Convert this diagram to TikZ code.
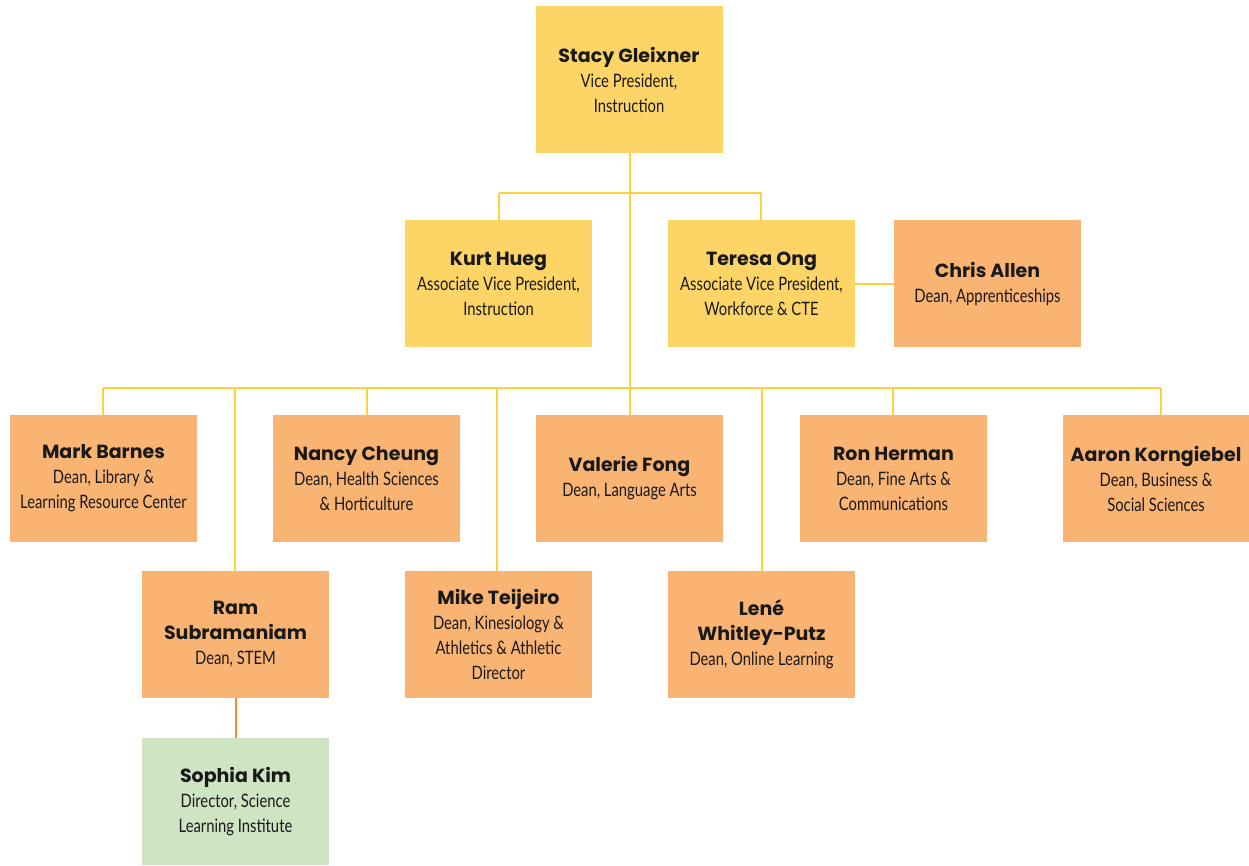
\documentclass[tikz,border=0pt]{standalone}
\usepackage{fontspec}
\setmainfont{Lato}
\newfontfamily\namefam{Poppins}
\newfontfamily\descfam[FakeStretch=0.8]{Lato}
\definecolor{ylw}{HTML}{FDD466}
\definecolor{org}{HTML}{F9B474}
\definecolor{grn}{HTML}{CEE4C3}
\definecolor{yline}{HTML}{FDD03E}
\definecolor{oline}{HTML}{F6892A}
\newcommand{\nm}[1]{{\namefam\bfseries\fontsize{19}{25}\selectfont #1}}
\tikzset{
  person/.style={minimum width=187pt, minimum height=127pt, inner sep=0pt, align=center, text=black!90,
    font=\descfam\fontsize{18.5}{25}\selectfont},
  yb/.style={person, fill=ylw},
  ob/.style={person, fill=org},
  gb/.style={person, fill=grn},
  conn/.style={draw=yline, line width=2pt},
  oconn/.style={draw=oline, line width=2pt}
}
\begin{document}
\begin{tikzpicture}[x=1pt,y=-1pt]
\useasboundingbox (0,0) rectangle (1249,865);
\coordinate (hub1) at (629.5,193);
\coordinate (hub2) at (629.5,388);
\coordinate (l1) at (499,193);
\coordinate (r1) at (761,193);
\coordinate (l2) at (103,388);
\coordinate (r2) at (1161,388);
\coordinate (cram) at (235,388);
\coordinate (cmike) at (497,388);
\coordinate (clene) at (762,388);
\coordinate (cron) at (893,388);
% boxes
\node[yb, minimum height=147pt] (stacy) at (629,79.5) {\nm{Stacy Gleixner}\\Vice President,\\Instruction};
\node[yb] (kurt) at (498.5,283.5) {\nm{Kurt Hueg}\\Associate Vice President,\\Instruction};
\node[yb] (teresa) at (761.5,283.5) {\nm{Teresa Ong}\\Associate Vice President,\\Workforce \& CTE};
\node[ob] (chris) at (987.5,283.5) {\nm{Chris Allen}\\Dean, Apprenticeships};
\node[ob] (mark) at (103.5,478.5) {\nm{Mark Barnes}\\Dean, Library \&\\Learning Resource Center};
\node[ob] (nancy) at (366.5,478.5) {\nm{Nancy Cheung}\\Dean, Health Sciences\\\& Horticulture};
\node[ob] (valerie) at (629.5,478.5) {\nm{Valerie Fong}\\Dean, Language Arts};
\node[ob] (ron) at (893.5,478.5) {\nm{Ron Herman}\\Dean, Fine Arts \&\\Communications};
\node[ob] (aaron) at (1156,478.5) {\nm{Aaron Korngiebel}\\Dean, Business \&\\Social Sciences};
\node[ob] (ram) at (235.5,634.5) {\nm{Ram}\\\nm{Subramaniam}\\Dean, STEM};
\node[ob] (mike) at (498.5,634.5) {\nm{Mike Teijeiro}\\Dean, Kinesiology \&\\Athletics \& Athletic\\Director};
\node[ob] (lene) at (761.5,634.5) {\nm{Lené}\\\nm{Whitley-Putz}\\Dean, Online Learning};
\node[gb] (sophia) at (235.5,801.5) {\nm{Sophia Kim}\\Director, Science\\Learning Institute};
% connectors
\draw[conn] (stacy.south -| hub1) -- (hub2);
\draw[conn] (l1) -- (r1);
\draw[conn] (l1) -- (l1 |- kurt.north);
\draw[conn] (r1) -- (r1 |- teresa.north);
\draw[conn] (teresa.east) -- (chris.west);
\draw[conn] (l2) -- (r2);
\draw[conn] (l2) -- (l2 |- mark.north);
\draw[conn] (cram) -- (cram |- ram.north);
\draw[conn] (nancy.north) -- (nancy.north |- hub2);
\draw[conn] (cmike) -- (cmike |- mike.north);
\draw[conn] (hub2) -- (hub2 |- valerie.north);
\draw[conn] (clene) -- (clene |- lene.north);
\draw[conn] (cron) -- (cron |- ron.north);
\draw[conn] (r2) -- (r2 |- aaron.north);
\draw[oconn] (ram.south) -- (sophia.north);
\end{tikzpicture}
\end{document}
